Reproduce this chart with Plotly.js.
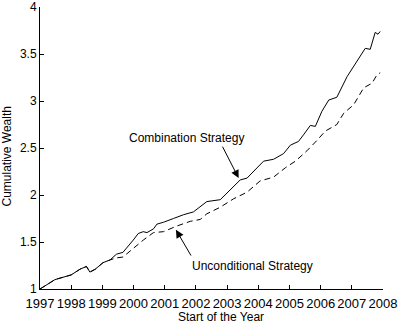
<!DOCTYPE html>
<html>
<head>
<meta charset="utf-8">
<script src="https://cdn.plot.ly/plotly-3.0.1.min.js"></script>
<style>html,body{margin:0;padding:0;background:#fff;}#chart{width:400px;height:324px;}</style>
</head>
<body>
<div id="chart"></div>
<script>
// Combination Strategy (solid)
const yearsComb = [1997.0, 1997.48, 1998.0, 1998.28, 1998.49, 1998.6, 1998.77, 1999.02, 1999.25, 1999.45, 1999.66, 1999.88, 1999.99, 2000.15, 2000.31, 2000.43, 2000.64, 2000.75, 2000.96, 2001.28, 2001.6, 2001.92, 2002.14, 2002.35, 2002.78, 2002.99, 2003.21, 2003.42, 2003.64, 2003.85, 2004.17, 2004.49, 2004.81, 2005.03, 2005.29, 2005.45, 2005.67, 2005.83, 2006.04, 2006.26, 2006.52, 2006.85, 2007.17, 2007.43, 2007.59, 2007.75, 2007.84, 2007.91];
const wealthComb = [1.00, 1.10, 1.15, 1.21, 1.24, 1.18, 1.21, 1.28, 1.31, 1.37, 1.39, 1.47, 1.52, 1.59, 1.61, 1.60, 1.64, 1.69, 1.71, 1.75, 1.79, 1.82, 1.88, 1.93, 1.95, 2.02, 2.09, 2.16, 2.18, 2.25, 2.36, 2.38, 2.44, 2.53, 2.57, 2.64, 2.74, 2.73, 2.89, 3.01, 3.04, 3.26, 3.42, 3.56, 3.55, 3.73, 3.71, 3.74];
// Unconditional Strategy (dashed)
const yearsUnc = [1997.0, 1997.48, 1998.0, 1998.28, 1998.49, 1998.6, 1998.77, 1999.02, 1999.25, 1999.44, 1999.66, 2000.04, 2000.31, 2000.64, 2000.96, 2001.39, 2001.82, 2002.14, 2002.35, 2002.78, 2003.21, 2003.64, 2004.06, 2004.49, 2004.87, 2005.19, 2005.56, 2005.88, 2006.15, 2006.52, 2006.74, 2007.06, 2007.38, 2007.65, 2007.81, 2007.91];
const wealthUnc = [1.00, 1.10, 1.15, 1.21, 1.24, 1.18, 1.21, 1.28, 1.31, 1.33, 1.34, 1.45, 1.52, 1.60, 1.61, 1.67, 1.72, 1.74, 1.80, 1.87, 1.96, 2.03, 2.15, 2.19, 2.29, 2.36, 2.47, 2.58, 2.68, 2.75, 2.87, 2.96, 3.14, 3.19, 3.28, 3.30];
const yearTicks = [1997, 1998, 1999, 2000, 2001, 2002, 2003, 2004, 2005, 2006, 2007, 2008];
const wealthTicks = [1, 1.5, 2, 2.5, 3, 3.5, 4];
const labelComb = "Combination Strategy";
const labelUnc = "Unconditional Strategy";

const font = {family: "Liberation Sans, Arial, sans-serif", size: 12, color: "#000"};
const xTickFont = {family: "Liberation Sans, Arial, sans-serif", size: 13, color: "#000"};
const yTickFont = {family: "Liberation Sans, Arial, sans-serif", size: 12, color: "#000"};

const traces = [
  {x: yearsComb, y: wealthComb, type: "scatter", mode: "lines", name: labelComb,
   line: {color: "#000", width: 1}},
  {x: yearsUnc, y: wealthUnc, type: "scatter", mode: "lines", name: labelUnc,
   line: {color: "#000", width: 1, dash: "6px,4px"}}
];

const layout = {
  width: 400, height: 324,
  margin: {l: 40, r: 17, t: 7, b: 35, pad: 0},
  paper_bgcolor: "#fff", plot_bgcolor: "#fff",
  showlegend: false,
  font: font,
  xaxis: {
    range: [1997, 2008], tickvals: yearTicks, ticktext: yearTicks.map(String),
    showline: true, linecolor: "#000", linewidth: 1, mirror: false,
    ticks: "inside", ticklen: 4, tickcolor: "#000", tickwidth: 1,
    showgrid: false, zeroline: false, tickfont: xTickFont, ticklabelstandoff: 2,
    ticklabeloverflow: "allow"
  },
  yaxis: {
    range: [1, 4], tickvals: wealthTicks, ticktext: wealthTicks.map(String),
    showline: true, linecolor: "#000", linewidth: 1, mirror: false,
    ticks: "inside", ticklen: 4, tickcolor: "#000", tickwidth: 1,
    showgrid: false, zeroline: false, tickfont: yTickFont, ticklabeloverflow: "allow"
  },
  annotations: [
    {xref: "paper", yref: "paper", x: 0.528, y: -0.099, text: "Start of the Year",
     showarrow: false, xanchor: "center", yanchor: "middle", font: font},
    {xref: "paper", yref: "paper", x: -0.096, y: 0.47, text: "Cumulative Wealth",
     showarrow: false, textangle: -90, xanchor: "center", yanchor: "middle", font: font},
    {x: 2001.69, y: 2.61, text: labelComb, showarrow: false, xanchor: "center", yanchor: "middle", font: font},
    {x: 2003.81, y: 1.245, text: labelUnc, showarrow: false, xanchor: "center", yanchor: "middle", font: font},
    {x: 2003.37, y: 2.18, ax: 2002.83, ay: 2.53, axref: "x", ayref: "y", text: "",
     showarrow: true, arrowhead: 2, arrowsize: 1.6, arrowwidth: 1, arrowcolor: "#000", standoff: 0, startstandoff: 0},
    {x: 2001.36, y: 1.63, ax: 2001.87, ay: 1.34, axref: "x", ayref: "y", text: "",
     showarrow: true, arrowhead: 2, arrowsize: 1.6, arrowwidth: 1, arrowcolor: "#000", standoff: 0, startstandoff: 0}
  ]
};

Plotly.newPlot("chart", traces, layout, {staticPlot: true, displayModeBar: false});
</script>
</body>
</html>
